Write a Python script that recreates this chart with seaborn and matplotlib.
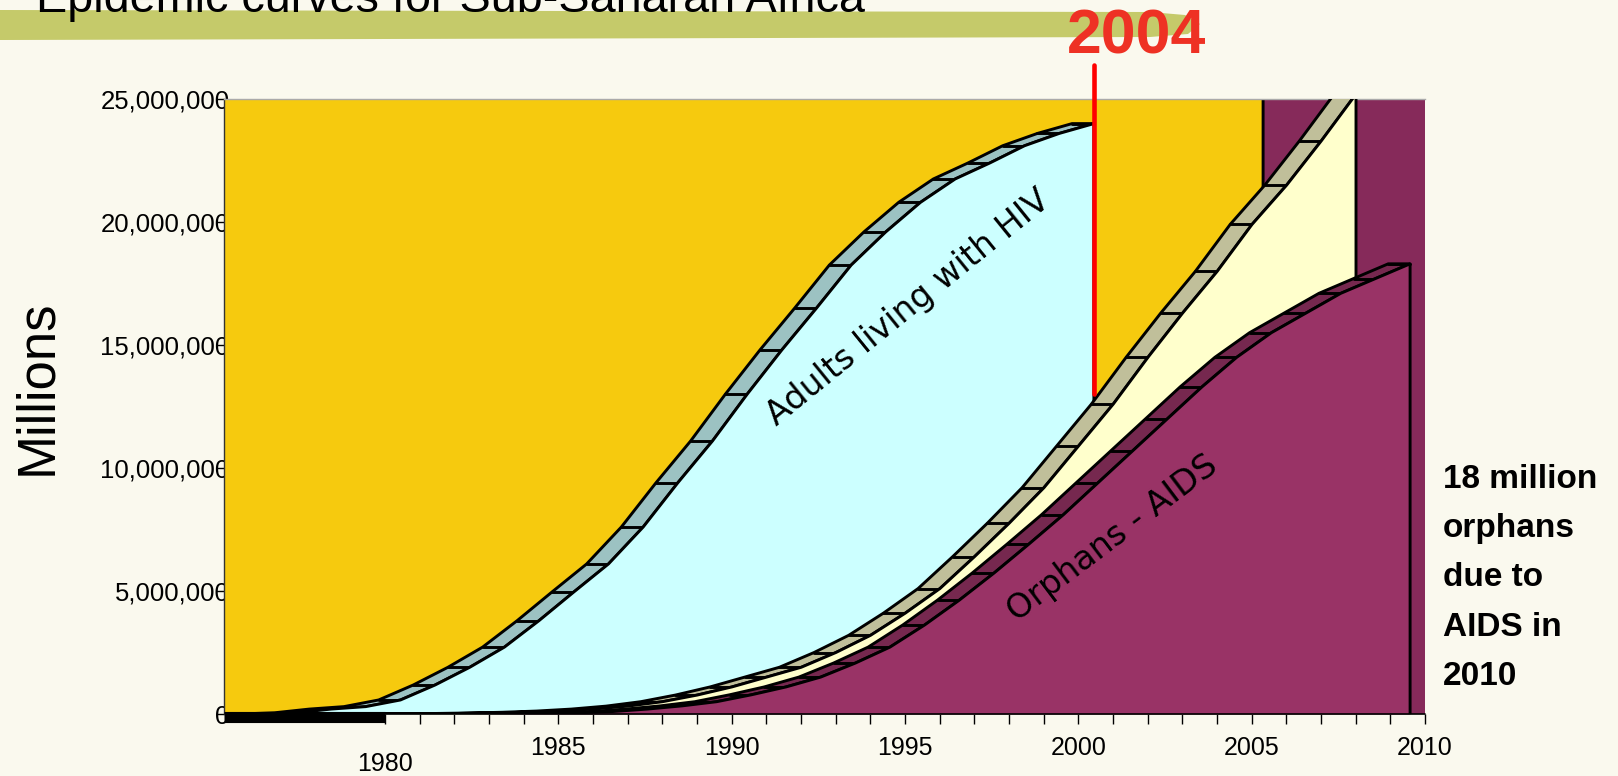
import numpy as np
import matplotlib
matplotlib.use("Agg")
import matplotlib.pyplot as plt
import seaborn as sns
from matplotlib.patches import Polygon
from matplotlib.ticker import FuncFormatter

# ---- values (millions) ----
years = list(range(1980, 2011))
adult_years = list(range(1980, 2005))

# back series, above the 25M axis top the whole way (only its face shows)
back_series = [26.0, 26.2, 26.4, 26.6, 26.8, 27.0, 27.2, 27.4, 27.6, 27.8,
               28.0, 28.2, 28.4, 28.6, 28.8, 29.0, 29.2, 29.4, 29.6, 29.8,
               30.0, 30.2, 30.4, 30.6, 30.8, 31.0, 31.2, 31.4, 31.6, 31.8, 32.0]

adults_hiv = [0.0, 0.05, 0.2, 0.3, 0.57, 1.18, 1.9, 2.72, 3.8, 4.96,
              6.1, 7.6, 9.4, 11.1, 13.0, 14.8, 16.5, 18.25, 19.6, 20.8,
              21.75, 22.4, 23.1, 23.6, 24.0]

# unlabelled middle series (light yellow)
middle_series = [0.0, 0.0, 0.0, 0.01, 0.02, 0.04, 0.07, 0.12, 0.2, 0.32,
                 0.5, 0.77, 1.1, 1.5, 1.9, 2.5, 3.2, 4.1, 5.1, 6.4,
                 7.76, 9.2, 10.9, 12.6, 14.5, 16.3, 18.0, 19.9, 21.5, 23.3, 25.2]

orphans_aids = [0.0, 0.0, 0.0, 0.0, 0.01, 0.03, 0.05, 0.1, 0.2, 0.33,
                0.5, 0.78, 1.1, 1.5, 2.07, 2.72, 3.62, 4.63, 5.73, 6.9,
                8.1, 9.4, 10.7, 12.0, 13.3, 14.5, 15.5, 16.3, 17.1, 17.7, 18.3]

x_ticks = list(range(1980, 2011))
y_ticks = [0, 5e6, 10e6, 15e6, 20e6, 25e6]
marker_year = 2004
marker_span = (13.0e6, 26.4e6)
note_text = "18 million\norphans\ndue to\nAIDS in\n2010"

# fake 3D look: series further back are pushed left, top surface drawn as a band
depth_shift = [0.43, 1.99, 3.55, 4.67]   # years, front -> back
band_depth = 0.63
LW = 2.1

sns.set_theme(style="white", rc={"text.color": "black", "axes.labelcolor": "black",
                                 "xtick.color": "black", "ytick.color": "black"})
plt.rcParams["font.family"] = ["Liberation Sans", "DejaVu Sans"]

W, H = 1618, 776
fig = plt.figure(figsize=(W / 100, H / 100), dpi=100)
fig.patch.set_facecolor("#FAF9EE")
ax = fig.add_axes([224 / W, 1 - 714 / H, 1201 / W, 615 / H])
ax.set_facecolor("#862A5A")


def draw_layer(ax, yrs, vals, depth, face, band, z):
    x = np.array(yrs, dtype=float) - depth_shift[depth]
    y = np.array(vals) * 1e6
    xb = x - band_depth
    pts = np.column_stack([np.concatenate([x, xb[::-1]]), np.concatenate([y, y[::-1]])])
    ax.add_patch(Polygon(pts, closed=True, facecolor=band, edgecolor="black", lw=LW, zorder=z))
    for a, b, h in zip(xb, x, y):
        ax.plot([a, b], [h, h], color="black", lw=LW, zorder=z)
    ax.fill_between(x, 0, y, color=face, lw=0, zorder=z + 0.1)
    ox = np.concatenate([[x[0]], x, [x[-1]]])
    oy = np.concatenate([[0], y, [0]])
    sns.lineplot(x=ox, y=oy, sort=False, estimator=None, color="black", lw=LW, ax=ax, zorder=z + 0.2)


draw_layer(ax, years, back_series, 3, "#F6CA0E", "#F6CA0E", 2)
draw_layer(ax, adult_years, adults_hiv, 2, "#CCFFFF", "#9CC2C2", 4)
draw_layer(ax, years, middle_series, 1, "#FFFFCC", "#C0BF9A", 6)
draw_layer(ax, years, orphans_aids, 0, "#993366", "#76284F", 8)

ax.set_xlim(1975.36, 2010)
ax.set_ylim(0, 25e6)

# axis line and the thick floor edge left of 1980
ax.plot([x_ticks[0], x_ticks[-1]], [0, 0], color="black", lw=1.2, clip_on=False, zorder=12)
ax.plot([ax.get_xlim()[0], x_ticks[0]], [-0.14e6, -0.14e6], color="black", lw=8,
        solid_capstyle="butt", clip_on=False, zorder=12)

ax.set_xticks(x_ticks)
ax.set_xticklabels([str(t) if t % 5 == 0 else "" for t in x_ticks])
ax.get_xticklabels()[0].set_y(-0.026)
ax.set_yticks(y_ticks)
ax.yaxis.set_major_formatter(FuncFormatter(lambda v, p: f"{v:,.0f}"))
ax.tick_params(axis="x", bottom=True, length=7, width=1, pad=9, labelsize=18)
ax.tick_params(axis="y", left=True, length=6, width=1, pad=-10, labelsize=18.5)

for side in ["right", "bottom"]:
    ax.spines[side].set_visible(False)
ax.spines["left"].set_color("#333333")
ax.spines["left"].set_linewidth(1)
ax.spines["top"].set_color("#AAAAAA")
ax.spines["top"].set_linewidth(1)

ax.set_ylabel("Millions", fontsize=38)
ax.yaxis.set_label_coords(-0.135, 0.532)

ax.text(1995.1, 16.5e6, "Adults living with HIV", rotation=39, ha="center", va="center",
        fontsize=24, family="DejaVu Sans", zorder=20)
ax.text(2001.0, 7.15e6, "Orphans - AIDS", rotation=37, ha="center", va="center",
        fontsize=24, family="DejaVu Sans", zorder=20)

# 2004 marker
mx = marker_year - depth_shift[2]
ax.plot([mx, mx], marker_span, color="#FF0000", lw=3.3, clip_on=False, zorder=30)
fig.text(1137 / W, 1 - 54 / H, "2004", color="#EE3124", fontsize=45, fontweight="bold",
         ha="center", va="baseline")

# title strip
bar = [(0, 10), (1150, 12), (1185, 15), (1200, 24), (1188, 34), (1150, 37), (0, 40)]
fig.add_artist(Polygon([(px / W, 1 - py / H) for px, py in bar], closed=True,
                       transform=fig.transFigure, facecolor="#C5CA6A", edgecolor="none", zorder=0))
fig.text(36 / W, 1 - 12 / H, "Epidemic curves for Sub-Saharan Africa", fontsize=33.7,
         ha="left", va="baseline", zorder=2)

fig.text(1443 / W, 1 - 464 / H, note_text, fontsize=24, fontweight="bold",
         ha="left", va="top", linespacing=1.76)

fig.savefig("out.png", dpi=100, facecolor=fig.get_facecolor())
